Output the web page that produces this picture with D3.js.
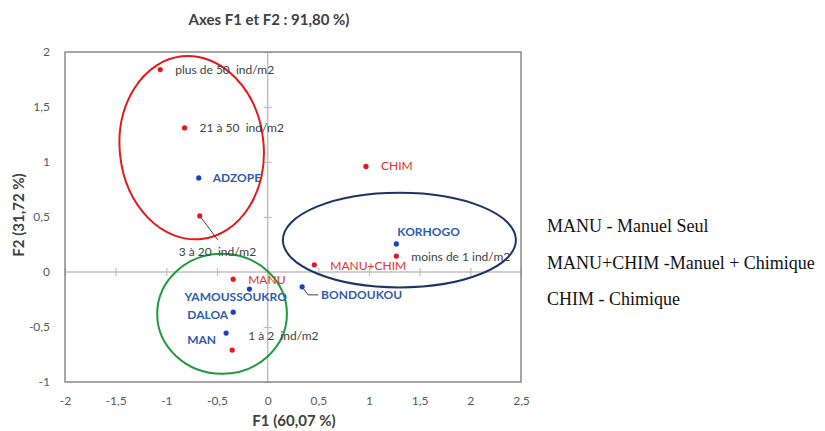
<!DOCTYPE html>
<html>
<head>
<meta charset="utf-8">
<script src="https://cdn.jsdelivr.net/npm/d3@7"></script>
<style>
  body { margin: 0; background: #fff; }
  svg { display: block; }
</style>
</head>
<body>
<div id="chart"></div>
<script>
// observations (ACP) - rouge: modalites, bleu: localites
const modaliteNoms = ['plus de 50  ind/m2', '21 à 50  ind/m2', '3 à 20  ind/m2', 'CHIM', 'moins de 1 ind/m2', 'MANU+CHIM', 'MANU', '1 à 2  ind/m2']
const modaliteF1 = [-1.06, -0.82, -0.67, 0.97, 1.27, 0.46, -0.34, -0.35]
const modaliteF2 = [1.84, 1.31, 0.51, 0.96, 0.145, 0.065, -0.065, -0.71]
const modaliteType = ['densite', 'densite', 'densite', 'methode', 'densite', 'methode', 'methode', 'densite']

const localiteNoms = ['ADZOPE', 'KORHOGO', 'BONDOUKOU', 'YAMOUSSOUKRO', 'DALOA', 'MAN']
const localiteF1 = [-0.68, 1.27, 0.34, -0.18, -0.34, -0.41]
const localiteF2 = [0.855, 0.255, -0.135, -0.155, -0.365, -0.555]

// groupes (ellipses) en unites des axes
const groupeCx = [-0.75, -0.45, 1.30]
const groupeCy = [1.13, -0.38, 0.29]
const groupeRx = [0.71, 0.64, 1.15]
const groupeRy = [0.835, 0.545, 0.43]
const groupeCouleur = ['#e3191c', '#1e9a3c', '#1c3468']

const xTicks = [-2, -1.5, -1, -0.5, 0, 0.5, 1, 1.5, 2, 2.5]
const yTicks = [-1, -0.5, 0, 0.5, 1, 1.5, 2]

const legende = ['MANU - Manuel Seul', 'MANU+CHIM -Manuel + Chimique', 'CHIM - Chimique']

// decalages des etiquettes (px)
const decalModalite = [[15, 4, 'start'], [15, 4, 'start'], [-21, 40, 'start'], [15, 4, 'start'], [15, 5, 'start'], [16, 5, 'start'], [15, 5, 'start'], [16, -10, 'start']]
const decalLocalite = [[14, 4, 'start'], [1, -8, 'start'], [19, 12, 'start'], [-65, 12, 'start'], [-5, 7, 'end'], [-10, 11, 'end']]

const width = 825
const height = 431
const margin = { left: 65, right: 304, top: 52, bottom: 49 }

const fr = d3.formatLocale({ decimal: ',', thousands: ' ', grouping: [3], currency: ['', '€'] })
const fmt = v => fr.format('~g')(v).replace('−', '-')

const svg = d3.select('#chart').append('svg')
    .attr('width', width)
    .attr('height', height)

const x = d3.scaleLinear().domain([-2, 2.5]).range([margin.left, width - margin.right])
const y = d3.scaleLinear().domain([-1, 2]).range([height - margin.bottom, margin.top])

// lignes zero
svg.append('line')
    .attr('x1', x(-2)).attr('x2', x(2.5))
    .attr('y1', y(0)).attr('y2', y(0))
    .attr('stroke', '#bfbfbf').attr('stroke-width', 1.5)
svg.append('line')
    .attr('x1', x(0)).attr('x2', x(0))
    .attr('y1', y(-1)).attr('y2', y(2))
    .attr('stroke', '#bfbfbf').attr('stroke-width', 1.5)

// petites graduations sur les lignes zero
const gx0 = svg.append('g')
    .attr('transform', 'translate(0,' + (y(0) - 4) + ')')
    .call(d3.axisBottom(x).tickValues(xTicks).tickSize(8).tickFormat(''))
gx0.select('.domain').remove()
gx0.selectAll('line').attr('stroke', '#bfbfbf').attr('stroke-width', 1.2)

const gy0 = svg.append('g')
    .attr('transform', 'translate(' + (x(0) + 4) + ',0)')
    .call(d3.axisLeft(y).tickValues(yTicks).tickSize(8).tickFormat(''))
gy0.select('.domain').remove()
gy0.selectAll('line').attr('stroke', '#bfbfbf').attr('stroke-width', 1.2)

// cadre
svg.append('rect')
    .attr('x', x(-2)).attr('y', y(2))
    .attr('width', x(2.5) - x(-2)).attr('height', y(-1) - y(2))
    .attr('fill', 'none').attr('stroke', '#898989').attr('stroke-width', 1.5)

// etiquettes des axes
const gx = svg.append('g')
    .attr('transform', 'translate(0,' + y(-1) + ')')
    .call(d3.axisBottom(x).tickValues(xTicks).tickSize(0).tickPadding(14).tickFormat(fmt))
gx.select('.domain').remove()
gx.selectAll('text').attr('fill', '#595959').style('font', '12px Lato')

const gy = svg.append('g')
    .attr('transform', 'translate(' + x(-2) + ',0)')
    .call(d3.axisLeft(y).tickValues(yTicks).tickSize(0).tickPadding(15).tickFormat(fmt))
gy.select('.domain').remove()
gy.selectAll('text').attr('fill', '#595959').style('font', '12px Lato')

// titres
svg.append('text')
    .attr('x', 269).attr('y', 25)
    .attr('text-anchor', 'middle')
    .style('font', 'bold 15px Lato').attr('fill', '#404040')
    .text('Axes F1 et F2 : 91,80 %)')

svg.append('text')
    .attr('x', 294).attr('y', 426)
    .attr('text-anchor', 'middle')
    .style('font', 'bold 15px Lato').attr('fill', '#404040')
    .text('F1 (60,07 %)')

svg.append('text')
    .attr('transform', 'translate(24,215) rotate(-90)')
    .attr('text-anchor', 'middle')
    .style('font', 'bold 15px Lato').attr('fill', '#404040')
    .text('F2 (31,72 %)')

// ellipses
groupeCx.forEach((cx, i) => {
    const ecx = x(cx), ecy = y(groupeCy[i])
    svg.append('ellipse')
        .attr('cx', ecx).attr('cy', ecy)
        .attr('rx', x(groupeRx[i]) - x(0))
        .attr('ry', y(0) - y(groupeRy[i]))
        .attr('transform', i === 0 ? 'rotate(-6,' + ecx + ',' + ecy + ')' : null)
        .attr('fill', 'none')
        .attr('stroke', groupeCouleur[i])
        .attr('stroke-width', 2)
})

// traits de rappel
const p3 = [x(modaliteF1[2]), y(modaliteF2[2])]
svg.append('line')
    .attr('x1', p3[0]).attr('y1', p3[1])
    .attr('x2', p3[0] + 18).attr('y2', p3[1] + 24)
    .attr('stroke', '#404040').attr('stroke-width', 1)
const pb = [x(localiteF1[2]), y(localiteF2[2])]
svg.append('path')
    .attr('d', 'M' + pb[0] + ',' + pb[1] + 'L' + (pb[0] + 6) + ',' + (pb[1] + 8) + 'H' + (pb[0] + 16))
    .attr('fill', 'none').attr('stroke', '#404040').attr('stroke-width', 1)

// points modalites
modaliteNoms.forEach((nom, i) => {
    const px = x(modaliteF1[i]), py = y(modaliteF2[i])
    svg.append('circle').attr('cx', px).attr('cy', py).attr('r', 2.6).attr('fill', '#e3191c')
    const d = decalModalite[i]
    svg.append('text')
        .attr('x', px + d[0]).attr('y', py + d[1])
        .attr('text-anchor', d[2])
        .style('font', '12px Lato')
        .style('white-space', 'pre')
        .attr('fill', modaliteType[i] === 'methode' ? '#e2302d' : '#404040')
        .text(nom)
})

// points localites
localiteNoms.forEach((nom, i) => {
    const px = x(localiteF1[i]), py = y(localiteF2[i])
    svg.append('circle').attr('cx', px).attr('cy', py).attr('r', 2.6).attr('fill', '#1a3fc4')
    const d = decalLocalite[i]
    svg.append('text')
        .attr('x', px + d[0]).attr('y', py + d[1])
        .attr('text-anchor', d[2])
        .style('font', 'bold 12px Lato')
        .attr('fill', '#2e5da8')
        .text(nom)
})

// legende a droite
legende.forEach((t, i) => {
    svg.append('text')
        .attr('x', 547).attr('y', 232 + i * 36.5)
        .style('font', '18px "Liberation Serif"')
        .attr('fill', '#111')
        .text(t)
})
</script>
</body>
</html>
